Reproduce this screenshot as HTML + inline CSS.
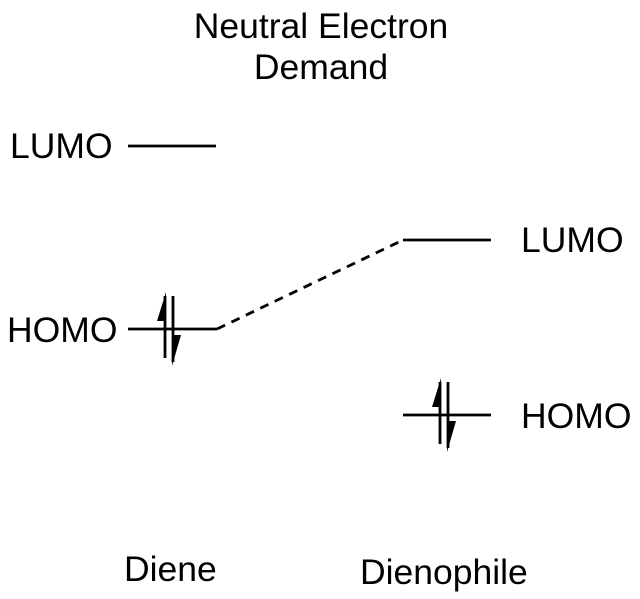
<html><body style="margin:0;width:640px;height:599px;background:#fff;overflow:hidden">
<svg width="640" height="599" xmlns="http://www.w3.org/2000/svg" font-family="Liberation Sans, sans-serif" font-size="35.5" fill="#000">
<text x="321" y="38" text-anchor="middle">Neutral Electron</text>
<text x="321" y="79" text-anchor="middle">Demand</text>
<text x="10" y="158">LUMO</text>
<text x="7" y="342">HOMO</text>
<text x="521" y="252">LUMO</text>
<text x="521" y="428">HOMO</text>
<text x="124" y="581">Diene</text>
<text x="360" y="584">Dienophile</text>
<g stroke="#000" stroke-width="2.8" fill="none">
<line x1="128" y1="146" x2="216" y2="146"/>
<line x1="128" y1="329" x2="217" y2="329"/>
<line x1="217" y1="329" x2="403" y2="240" stroke-dasharray="9,7"/>
<line x1="403" y1="240" x2="491" y2="240"/>
<line x1="403" y1="415" x2="491" y2="415"/>
<line x1="165" y1="296" x2="165" y2="358"/>
<line x1="173" y1="296" x2="173" y2="362"/>
<line x1="440" y1="382" x2="440" y2="444"/>
<line x1="448" y1="382" x2="448" y2="448"/>
</g>
<polygon points="166,292 166,321 157,321"/>
<polygon points="172,366 172,335 181,335"/>
<polygon points="441,378 441,407 432,407"/>
<polygon points="447,452 447,421 456,421"/>
</svg>
</body></html>
